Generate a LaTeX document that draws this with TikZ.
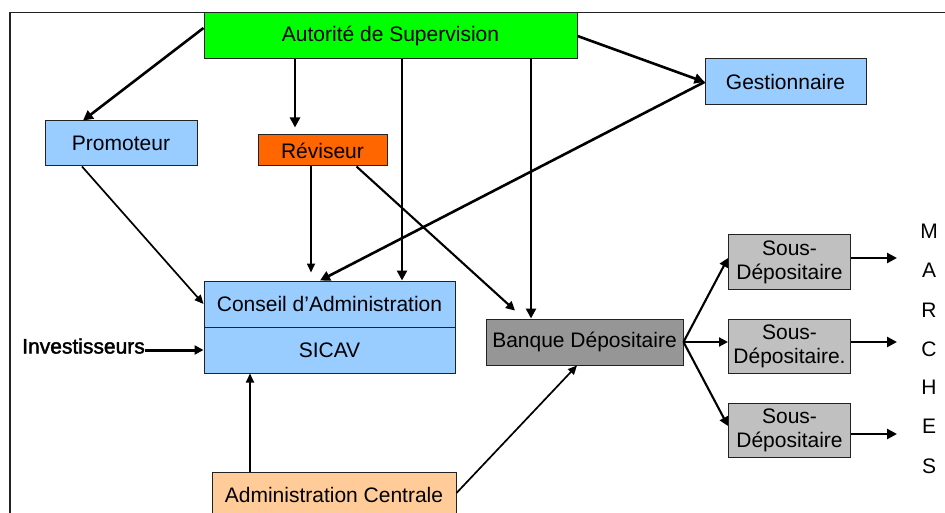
\documentclass[tikz,border=0pt]{standalone}
\usepackage{fontspec}
\setmainfont{Liberation Sans}
\newfontfamily\invfont[FakeBold=2]{Liberation Sans}
\usetikzlibrary{arrows.meta}
\definecolor{cgreen}{HTML}{00FF00}
\definecolor{cblue}{HTML}{99CCFF}
\definecolor{corange}{HTML}{FF6600}
\definecolor{cpeach}{HTML}{FFCC99}
\definecolor{cdgray}{HTML}{969696}
\definecolor{clgray}{HTML}{C0C0C0}
\definecolor{cborder}{HTML}{222222}
\begin{document}
\begin{tikzpicture}[x=1pt,y=-1pt,
  box/.style={draw=cborder,line width=1pt,inner sep=0pt,font=\fontsize{21}{24}\selectfont,align=center},
  lbl/.style={inner sep=0pt,font=\fontsize{21}{24}\selectfont},
  thick arr/.style={line width=2.6pt,-{Triangle[length=10pt,width=10pt]}},
  thin arr/.style={line width=1.7pt,-{Triangle[length=9pt,width=8pt]}},
  mid arr/.style={line width=2.1pt,-{Triangle[length=9pt,width=9pt]}}]
\useasboundingbox (0,0) rectangle (945,513);
\begin{scope}
\clip (0,0) rectangle (945,513);
% frame
\draw[line width=1.2pt,cborder] (10,513) -- (10,12.5) -- (945,12.5);
% nodes
\node[box,fill=cgreen,minimum width=373pt,minimum height=46pt] (aut) at (390.5,36) {Autorité de Supervision};
\node[box,fill=cblue,minimum width=161pt,minimum height=46pt] (gest) at (785.5,82) {Gestionnaire};
\node[box,fill=cblue,minimum width=152pt,minimum height=45pt] (prom) at (121,143.5) {Promoteur};
\node[box,fill=corange,minimum width=129pt,minimum height=31pt] (rev) at (322.5,150.5) {Réviseur};
\node[box,fill=cblue,minimum width=251pt,minimum height=46pt] (cons) at (329.5,304) {Conseil d’Administration};
\node[box,fill=cblue,minimum width=251pt,minimum height=46pt] (sicav) at (329.5,350) {SICAV};
\node[box,fill=cpeach,minimum width=244pt,minimum height=46pt] (adm) at (334,495) {Administration Centrale};
\node[box,fill=cdgray,minimum width=197pt,minimum height=46pt] (bank) at (584.5,342) {Banque Dépositaire};
\node[box,fill=clgray,minimum width=122pt,minimum height=54pt] (s1) at (789.5,262) {Sous-\\Dépositaire};
\node[box,fill=clgray,minimum width=122pt,minimum height=54pt] (s2) at (789.5,346) {Sous-\\Dépositaire.};
\node[box,fill=clgray,minimum width=122pt,minimum height=54pt] (s3) at (789.5,430) {Sous-\\Dépositaire};
\node[lbl,anchor=east,font=\fontsize{21}{24}\invfont] (inv) at (145,346) {Investisseurs};
% MARCHES
\node[lbl] (mM) at (929,231) {M};
\node[lbl] (mA) at (929,270) {A};
\node[lbl] (mR) at (929,310) {R};
\node[lbl] (mC) at (929,349) {C};
\node[lbl] (mH) at (929,387) {H};
\node[lbl] (mE) at (929,426) {E};
\node[lbl] (mS) at (929,466) {S};
\coordinate (e1) at (897,258);
\coordinate (e2) at (897,342);
\coordinate (e3) at (897,434);
% connectors from Autorité
\draw[thick arr] ([yshift=8pt]aut.west) -- ([xshift=-38pt]prom.north);
\draw[thick arr] ([xshift=-95.5pt]aut.south) -- ([xshift=-27.5pt,yshift=7pt]rev.north);
\draw[thick arr] ([xshift=11.5pt]aut.south) -- ([xshift=72.5pt]cons.north);
\draw[thick arr] ([xshift=140.5pt]aut.south) -- ([xshift=-53.5pt]bank.north);
\draw[thick arr] (aut.east) -- (gest.west);
\draw[thick arr] (gest.west) -- ([xshift=-9.5pt]cons.north);
% Réviseur
\draw[thin arr] ([xshift=-11.5pt]rev.south) -- ([xshift=-18.5pt,yshift=8pt]cons.north);
\draw[mid arr] ([xshift=34pt]rev.south) -- ([xshift=-69.5pt,yshift=8pt]bank.north);
% Promoteur
\draw[thin arr] ([xshift=-39pt]prom.south) -- (cons.west);
% Investisseurs
\draw[line width=3pt,-{Triangle[length=9pt,width=9pt]}] (inv.east |- sicav.west) -- (sicav.west);
% Administration Centrale
\draw[thin arr] ([xshift=-84pt]adm.north) -- ([xshift=-79.5pt]sicav.south);
\draw[thin arr] ([yshift=2pt]adm.east) -- ([xshift=-7.5pt]bank.south);
% Banque to sous-dépositaires
\draw[mid arr] (bank.east) -- ([yshift=4pt]s1.west);
\draw[mid arr] (bank.east) -- ([yshift=4pt]s2.west);
\draw[mid arr] (bank.east) -- ([yshift=4pt]s3.west);
% to markets
\draw[thick arr] ([yshift=4pt]s1.east) -- (e1);
\draw[thick arr] ([yshift=4pt]s2.east) -- (e2);
\draw[thick arr] ([yshift=-4pt]s3.east) -- (e3);
\end{scope}
\end{tikzpicture}
\end{document}
